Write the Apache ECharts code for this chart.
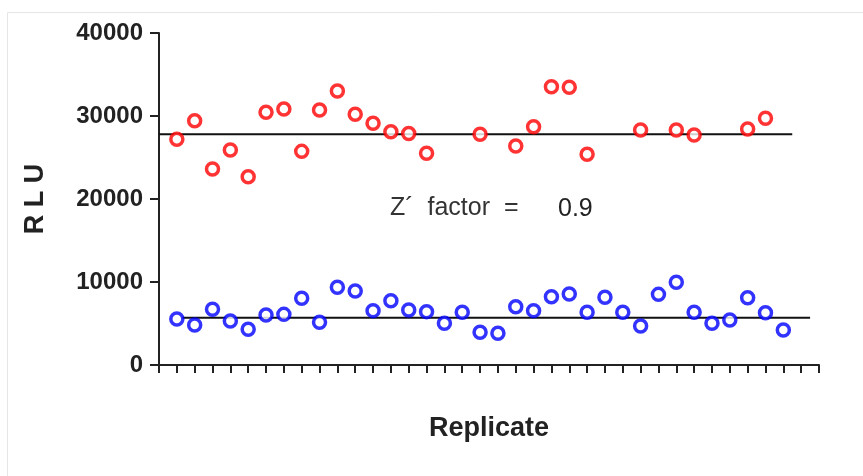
<!DOCTYPE html>
<html>
<head>
<meta charset="utf-8">
<script src="https://cdn.jsdelivr.net/npm/echarts@6/dist/echarts.min.js"></script>
<style>
html,body{margin:0;padding:0;background:#fff;}
#chart{width:863px;height:476px;}
</style>
</head>
<body>
<div id="chart"></div>
<script>
// ---- data ----
const yTicks = [0, 10000, 20000, 30000, 40000];
const positiveReplicates = [1,2,3,4,5,6,7,8,9,10,11,12,13,14,15,18,20,21,22,23,24,27,29,30,33,34];
const positiveRLU = [27190,29430,23610,25900,22690,30440,30840,25740,30720,33010,30200,29120,28100,27900,25500,27800,26390,28710,33530,33460,25390,28310,28310,27710,28430,29720];
const negativeReplicates = [1,2,3,4,5,6,7,8,9,10,11,12,13,14,15,16,17,18,19,20,21,22,23,24,25,26,27,28,29,30,31,32,33,34,35];
const negativeRLU = [5540,4820,6710,5300,4300,6020,6100,8030,5140,9360,8920,6550,7750,6630,6430,5020,6350,3940,3820,7030,6550,8230,8550,6350,8150,6350,4700,8510,9960,6350,5020,5420,8110,6300,4220];
const positiveMeanX = [0, 35.5];
const positiveMean = 27800;
const negativeMeanX = [1.3, 36.5];
const negativeMean = 5700;
const zFactorLabel = 'Z\u00b4  factor  =';
const zFactorValue = '0.9';

const chart = echarts.init(document.getElementById('chart'), null, {renderer: 'canvas'});
const axisColor = '#222';
const option = {
  backgroundColor: '#fff',
  animation: false,
  grid: {left: 159, top: 33, width: 660, height: 332, containLabel: false, outerBoundsMode: 'none'},
  xAxis: {
    type: 'value', min: 0, max: 37, interval: 1,
    name: 'Replicate', nameLocation: 'middle', nameGap: 50,
    nameTextStyle: {fontFamily: 'Liberation Sans, Arial', fontWeight: 'bold', fontSize: 27, color: '#222'},
    axisLine: {show: true, onZero: false, lineStyle: {color: axisColor, width: 2}},
    axisTick: {show: true, length: 8, lineStyle: {color: axisColor, width: 2}},
    axisLabel: {show: false},
    splitLine: {show: false}
  },
  yAxis: {
    type: 'value', min: yTicks[0], max: yTicks[yTicks.length-1], interval: yTicks[1]-yTicks[0],
    name: 'R L U', nameLocation: 'middle', nameGap: 110, nameRotate: 90,
    nameTextStyle: {fontFamily: 'Liberation Sans, Arial', fontWeight: 'bold', fontSize: 27, color: '#222'},
    axisLine: {show: true, lineStyle: {color: axisColor, width: 2}},
    axisTick: {show: true, length: 9, lineStyle: {color: axisColor, width: 2}},
    axisLabel: {show: true, margin: 16, fontFamily: 'Liberation Sans, Arial', fontWeight: 'bold', fontSize: 24, color: '#222',
      formatter: v => String(v)},
    splitLine: {show: false}
  },
  series: [
    {
      type: 'line', data: positiveMeanX.map(x => [x, positiveMean]), symbol: 'none',
      lineStyle: {color: '#111', width: 2}, z: 1, silent: true
    },
    {
      type: 'line', data: negativeMeanX.map(x => [x, negativeMean]), symbol: 'none',
      lineStyle: {color: '#111', width: 2}, z: 1, silent: true
    },
    {
      type: 'scatter', data: positiveReplicates.map((x, i) => [x, positiveRLU[i]]),
      symbol: 'circle', symbolSize: 12,
      itemStyle: {color: '#fff', borderColor: '#ff0000', borderWidth: 3.5}, z: 3
    },
    {
      type: 'scatter', data: negativeReplicates.map((x, i) => [x, negativeRLU[i]]),
      symbol: 'circle', symbolSize: 12,
      itemStyle: {color: '#fff', borderColor: '#0000ff', borderWidth: 3.5}, z: 3
    }
  ],
  graphic: [
    {type: 'rect', shape: {x: 7.5, y: 12.5, width: 900, height: 500}, style: {fill: 'none', stroke: '#e6e6e6', lineWidth: 1}, z: -1, silent: true},
    {type: 'text', left: 390, top: 196, style: {text: zFactorLabel, font: '25px "Liberation Sans", Arial', fill: '#333'}},
    {type: 'text', left: 558, top: 197, style: {text: zFactorValue, font: '25px "Liberation Sans", Arial', fill: '#222'}}
  ]
};
chart.setOption(option);
</script>
</body>
</html>
